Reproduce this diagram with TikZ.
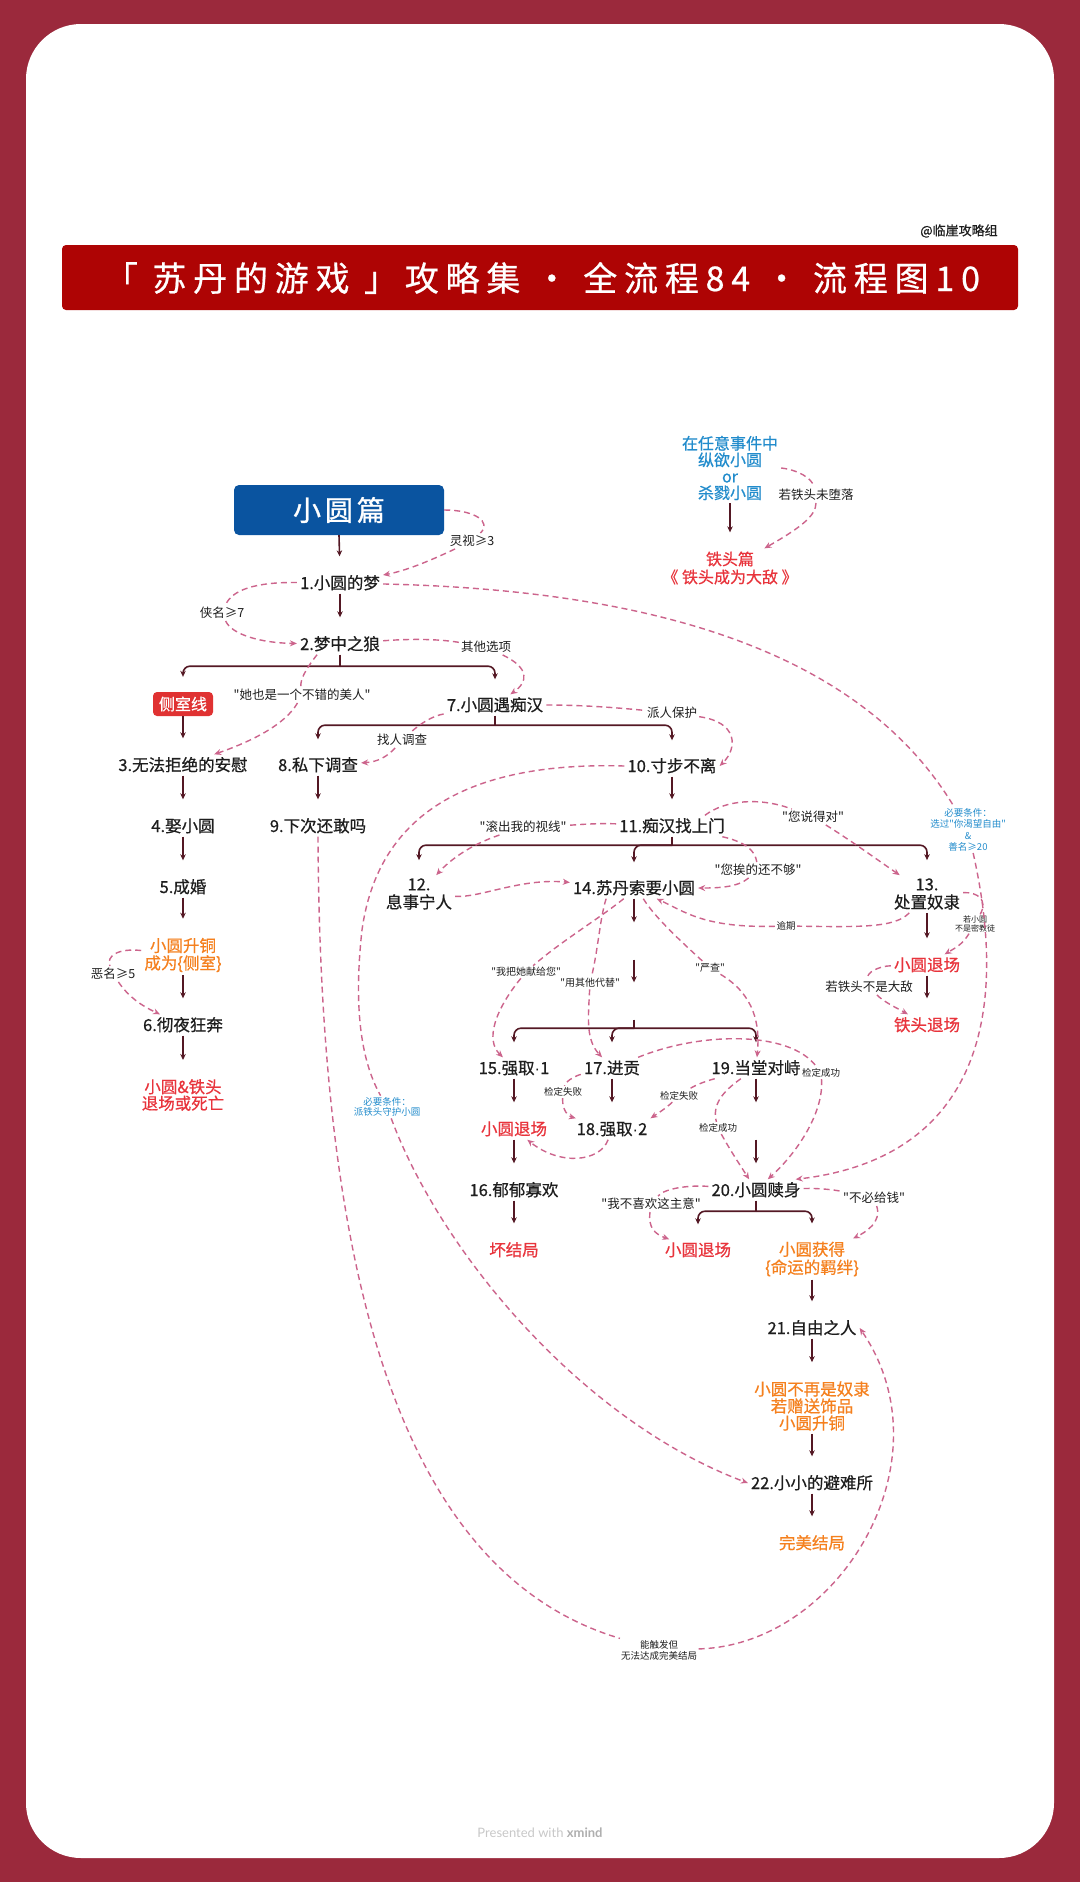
\documentclass[tikz,border=0pt]{standalone}
\usepackage{fontspec}
\setmainfont[Ligatures=TeXOff]{Noto Sans CJK SC}
\newfontfamily\nodefont[Ligatures=TeXOff, FakeBold=0.6]{Noto Sans CJK SC}
\newfontfamily\titlefont[LetterSpace=20, FakeBold=0.6]{Noto Sans CJK SC}
\newfontfamily\widecjk[LetterSpace=14, FakeBold=1]{Noto Sans CJK SC}
\newfontfamily\footfont{Lato}
\newfontfamily\latinf{Liberation Sans}
\newcommand\mdot{{\latinf ·}}
\usetikzlibrary{arrows.meta}
\definecolor{framec}{RGB}{155,41,60}
\definecolor{bannerc}{RGB}{174,4,4}
\definecolor{boxblue}{RGB}{10,84,160}
\definecolor{boxred}{RGB}{224,50,50}
\definecolor{lnc}{RGB}{84,24,36}
\definecolor{dsc}{RGB}{204,100,140}
\definecolor{txred}{RGB}{232,52,60}
\definecolor{txorange}{RGB}{245,128,30}
\definecolor{txblue}{RGB}{34,140,204}
\definecolor{txgray}{RGB}{200,200,200}
\definecolor{txdark}{RGB}{30,30,30}
\begin{document}
\begin{tikzpicture}[x=1pt,y=-1pt,
  nd/.style={inner sep=3pt, text=txdark, font=\nodefont\fontsize{16.5}{19}\selectfont, text height=13.5pt, text depth=1.5pt},
  nm/.style={inner sep=3pt, text=txdark, font=\nodefont\fontsize{16.5}{17.5}\selectfont, align=center},
  lbl/.style={inner sep=2pt, text=txdark, font=\fontsize{12.5}{14}\selectfont, align=center},
  lbs/.style={inner sep=1.5pt, text=txdark, font=\fontsize{9.5}{11}\selectfont, align=center},
  lbt/.style={inner sep=1pt, text=txdark, font=\fontsize{8}{9.5}\selectfont, align=center},
  arr/.style={draw=lnc, line width=1.6pt, -{Stealth[length=6pt,width=5.5pt]}, shorten >=16pt},
  tarr/.style={draw=lnc, line width=1.6pt, -{Stealth[length=6pt,width=5.5pt]}, rounded corners=7pt, shorten >=15pt},
  stemln/.style={draw=lnc, line width=1.6pt},
  dsh/.style={draw=dsc, line width=1.4pt, dash pattern=on 6pt off 4pt},
  dsa/.style={dsh, -{Stealth[length=7pt,width=6pt]}},
]
\useasboundingbox (0,0) rectangle (1080,1882);
\fill[framec] (0,0) rectangle (1080,1882);
\fill[white, rounded corners=55pt] (26,24) rectangle (1054,1858);

% header
\node[font=\nodefont\fontsize{13}{15}\selectfont, text=txdark] (wm) at (959,231) {@临崖攻略组};
\fill[bannerc, rounded corners=4pt] (62,245) rectangle (1018,310);
\node[text=white, font=\titlefont\fontsize{34}{40}\selectfont] (title) at (542,278) {「 苏丹的游戏 」攻略集 · 全流程84 · 流程图10};

% top right cluster
\node[nm, text=txblue, font=\nodefont\fontsize{16}{16.5}\selectfont] (topblue) at (730,468) {在任意事件中\\纵欲小圆\\or\\杀戮小圆};
\node[nm, text=txred, font=\nodefont\fontsize{16}{18}\selectfont] (tiepian) at (730,568) {铁头篇\\《 铁头成为大敌 》};

% main nodes
\node[fill=boxblue, rounded corners=5pt, minimum width=210pt, minimum height=50pt, text=white, font=\widecjk\fontsize{28}{32}\selectfont] (xyp) at (339,510) {小圆篇};
\node[nd] (n1) at (340,583) {1.小圆的梦};
\node[nd] (n2) at (340,644) {2.梦中之狼};
\node[fill=boxred, rounded corners=4pt, minimum width=60pt, minimum height=24pt, inner sep=2pt, text=white, font=\nodefont\fontsize{16}{18}\selectfont] (cs) at (183,704) {侧室线};
\node[nd] (n7) at (495,705) {7.小圆遇痴汉};
\node[nd] (n3) at (183,765) {3.无法拒绝的安慰};
\node[nd] (n8) at (318,765) {8.私下调查};
\node[nd] (n10) at (672,766) {10.寸步不离};
\node[nd] (n4) at (183,826) {4.娶小圆};
\node[nd] (n9) at (318,826) {9.下次还敢吗};
\node[nd] (n11) at (672,826) {11.痴汉找上门};
\node[nd] (n5) at (183,887) {5.成婚};
\node[nm, font=\nodefont\fontsize{16.5}{18}\selectfont] (n12) at (419,894) {12.\\息事宁人};
\node[nd] (n14) at (634,888) {14.苏丹索要小圆};
\node[nm, font=\nodefont\fontsize{16.5}{18}\selectfont] (n13) at (927,894) {13.\\处置奴隶};
\node[nd] (e1) at (634,949) {};
\node[nm, text=txorange] (o1) at (183,955) {小圆升铜\\成为\{侧室\}};
\node[nd, text=txred] (r13a) at (927,965) {小圆退场};
\node[nd] (e2) at (634,1009) {};
\node[nd, text=txred] (r13b) at (927,1025) {铁头退场};
\node[nd] (n6) at (183,1025) {6.彻夜狂奔};
\node[nd] (n15) at (514,1068) {15.强取\mdot 1};
\node[nd] (n17) at (612,1068) {17.进贡};
\node[nd] (n19) at (756,1068) {19.当堂对峙};
\node[nm, text=txred, font=\nodefont\fontsize{16.5}{16.5}\selectfont] (rr1) at (183,1095) {小圆\&铁头\\退场或死亡};
\node[nd, text=txred] (r15) at (514,1129) {小圆退场};
\node[nd] (n18) at (612,1129) {18.强取\mdot 2};
\node[nd] (e3) at (756,1129) {};
\node[nd] (n16) at (514,1190) {16.郁郁寡欢};
\node[nd] (n20) at (756,1190) {20.小圆赎身};
\node[nd, text=txred] (bad) at (514,1250) {坏结局};
\node[nd, text=txred] (r20) at (698,1250) {小圆退场};
\node[nm, text=txorange, font=\nodefont\fontsize{16.5}{18}\selectfont] (o20) at (812,1259) {小圆获得\\\{命运的羁绊\}};
\node[nd] (n21) at (812,1328) {21.自由之人};
\node[nm, text=txorange, font=\nodefont\fontsize{16.5}{17}\selectfont] (o21) at (812,1406) {小圆不再是奴隶\\若赠送饰品\\小圆升铜};
\node[nd] (n22) at (812,1483) {22.小小的避难所};
\node[nd, text=txorange] (perf) at (812,1543) {完美结局};

% labels
\node[lbl] (Lls) at (472,541) {灵视≥3};
\node[lbl] (Lxm) at (222,613) {侠名≥7};
\node[lbl] (Lqt) at (486,647) {其他选项};
\node[lbl] (Lmr) at (302,695) {"她也是一个不错的美人"};
\node[lbl] (Lzr) at (402,740) {找人调查};
\node[lbl] (Lpr) at (672,713) {派人保护};
\node[lbl] (Lgc) at (523,827) {"滚出我的视线"};
\node[lbl] (Lsd) at (813,817) {"您说得对"};
\node[lbl] (Lag) at (758,870) {"您挨的还不够"};
\node[lbs] (Lyq) at (786,926) {逾期};
\node[lbt] (Lmj) at (975,924) {若小圆\\不是密教徒};
\node[lbl] (Lbd) at (869,987) {若铁头不是大敌};
\node[lbs, font=\fontsize{10}{11}\selectfont] (Lxg) at (526,972) {"我把她献给您"};
\node[lbs, font=\fontsize{10}{11}\selectfont] (Lyt) at (590,983) {"用其他代替"};
\node[lbs, font=\fontsize{10}{11}\selectfont] (Lyc) at (710,968) {"严查"};
\node[lbs] (Lsb1) at (563,1092) {检定失败};
\node[lbs] (Lsb2) at (679,1096) {检定失败};
\node[lbs] (Lcg1) at (718,1128) {检定成功};
\node[lbs] (Lcg2) at (821,1073) {检定成功};
\node[lbl] (Lbx) at (651,1204) {"我不喜欢这主意"};
\node[lbl] (Lbb) at (874,1198) {"不必给钱"};
\node[lbl] (Lem) at (113,974) {恶名≥5};
\node[lbl] (Lwd) at (816,495) {若铁头未堕落};
\node[lbs, text=txblue, font=\fontsize{9.5}{10.5}\selectfont] (Lb) at (387,1107) {必要条件：\\派铁头守护小圆};
\node[lbs] (Lc) at (659,1650) {能触发但\\无法达成完美结局};
\node[lbs, text=txblue, font=\fontsize{9.5}{11.3}\selectfont] (Lc2) at (968,830) {必要条件：\\选过"你渴望自由"\\\&\\善名≥20};

% footer
\node[text=txgray, font=\footfont\fontsize{13}{15}\selectfont] (foot) at (540,1833) {Presented with \textbf{\textcolor[RGB]{175,175,175}{xmind}}};

% solid arrows
\draw[arr] (xyp.south) -- (n1.north);
\draw[arr] (n1.south) -- (n2.north);
\draw[arr] (cs.south) -- (n3.north);
\draw[arr] (n3.south) -- (n4.north);
\draw[arr] (n4.south) -- (n5.north);
\draw[arr] (n5.south) -- (o1.north);
\draw[arr] (o1.south) -- (n6.north);
\draw[arr] (n6.south) -- (rr1.north);
\draw[arr] (n8.south) -- (n9.north);
\draw[arr] (n10.south) -- (n11.north);
\draw[arr] (n13.south) -- (r13a.north);
\draw[arr] (r13a.south) -- (r13b.north);
\draw[arr] (n14.south) -- (e1.north);
\draw[arr] (e1.south) -- (e2.north);
\draw[arr] (n15.south) -- (r15.north);
\draw[arr] (n17.south) -- (n18.north);
\draw[arr] (n19.south) -- (e3.north);
\draw[arr] (e3.south) -- (n20.north);
\draw[arr] (r15.south) -- (n16.north);
\draw[arr] (n16.south) -- (bad.north);
\draw[arr] (o20.south) -- (n21.north);
\draw[arr] (n21.south) -- (o21.north);
\draw[arr] (o21.south) -- (n22.north);
\draw[arr] (n22.south) -- (perf.north);
\draw[arr] (topblue.south) -- (tiepian.north);

% trees
\draw[stemln] (n2.south) -- ++(0,11.5) coordinate (b2);
\draw[tarr] (b2) -| (cs.north);
\draw[tarr] (b2) -| (n7.north);
\draw[stemln] (n7.south) -- ++(0,9.5) coordinate (b7);
\draw[tarr] (b7) -| (n8.north);
\draw[tarr] (b7) -| (n10.north);
\draw[stemln] (n11.south) -- ++(0,8.5) coordinate (b11);
\draw[tarr] (b11) -| (n12.north);
\draw[tarr] (b11) -| (n14.north);
\draw[tarr] (b11) -| (n13.north);
\draw[stemln] (e2.south) -- ++(0,8.5) coordinate (be);
\draw[tarr] (be) -| (n15.north);
\draw[tarr] (be) -| (n17.north);
\draw[tarr] (be) -| (n19.north);
\draw[stemln] (n20.south) -- ++(0,10.5) coordinate (b20);
\draw[tarr] (b20) -| (r20.north);
\draw[tarr] (b20) -| (o20.north);

% dashed connectors
\draw[dsh] (xyp) .. controls (475,510) and (492,522) .. (Lls);
\draw[dsa] (Lls) .. controls (440,556) and (410,570) .. (n1);
\draw[dsh] (n1) .. controls (255,582) and (232,590) .. (Lxm);
\draw[dsa] (Lxm) .. controls (232,635) and (262,643) .. (n2);
\draw[dsh] (n2) .. controls (420,638) and (445,640) .. (Lqt);
\draw[dsa] (Lqt) .. controls (530,668) and (528,682) .. (n7);
\draw[dsh] (n2.205) .. controls (305,670) and (300,680) .. (Lmr);
\draw[dsa] (Lmr) .. controls (285,725) and (250,742) .. (n3);
\draw[dsh] (n7) .. controls (432,716) and (420,724) .. (Lzr);
\draw[dsa] (Lzr) .. controls (388,756) and (378,762) .. (n8);
\draw[dsh] (n7) .. controls (585,705) and (620,708) .. (Lpr);
\draw[dsa] (Lpr) .. controls (738,722) and (738,748) .. (n10.east);
\draw[dsh] (n10.west) .. controls (490,762) and (380,800) .. (362,930) .. controls (352,1020) and (365,1068) .. (Lb);
\draw[dsa] (Lb) .. controls (440,1250) and (580,1420) .. (n22.west);
\draw[dsh] (n9.south) .. controls (320,1250) and (390,1570) .. (Lc);
\draw[dsa] (Lc) .. controls (840,1645) and (950,1460) .. (n21.east);
\draw[dsh] (n1) .. controls (650,590) and (860,650) .. (Lc2);
\draw[dsa] (Lc2) .. controls (1015,1040) and (960,1160) .. ([xshift=-8pt]n20.north east);
\draw[dsh] (n11) .. controls (595,823) and (575,825) .. (Lgc);
\draw[dsa] (Lgc) .. controls (470,845) and (450,860) .. (n12);
\draw[dsh] (n11.18) .. controls (725,800) and (760,797) .. (Lsd);
\draw[dsa] (Lsd) .. controls (850,840) and (872,856) .. (n13);
\draw[dsh] (n11.-12) .. controls (745,842) and (755,850) .. (Lag);
\draw[dsa] (Lag) .. controls (738,887) and (720,888) .. (n14);
\draw[dsa] (n12) .. controls (480,898) and (520,878) .. (n14);
\draw[dsh] (n13) .. controls (895,928) and (860,927) .. (Lyq);
\draw[dsa] (Lyq) .. controls (705,928) and (685,912) .. (n14);
\draw[dsh] (n13) .. controls (978,892) and (988,900) .. (Lmj);
\draw[dsa] (Lmj) .. controls (962,945) and (955,948) .. (r13a);
\draw[dsh] (r13a) .. controls (880,966) and (866,972) .. (Lbd);
\draw[dsa] (Lbd) .. controls (884,1002) and (895,1007) .. (r13b);
\draw[dsh] (n14.226) .. controls (600,918) and (560,942) .. (Lxg);
\draw[dsa] (Lxg) .. controls (495,1010) and (485,1040) .. (n15);
\draw[dsh] (n14.201) .. controls (600,918) and (598,950) .. (Lyt);
\draw[dsa] (Lyt) .. controls (588,1020) and (586,1040) .. (n17);
\draw[dsh] (n14.311) .. controls (655,918) and (685,945) .. (Lyc);
\draw[dsa] (Lyc) .. controls (755,995) and (760,1025) .. (n19);
\draw[dsh] (n17) .. controls (578,1075) and (566,1080) .. (Lsb1);
\draw[dsa] (Lsb1) .. controls (562,1110) and (568,1116) .. (n18);
\draw[dsh] (n19) .. controls (702,1082) and (692,1087) .. (Lsb2);
\draw[dsa] (Lsb2) .. controls (666,1108) and (660,1112) .. (n18.north east);
\draw[dsa] (n18) .. controls (600,1162) and (560,1166) .. (r15);
\draw[dsh] (n19) .. controls (722,1092) and (712,1105) .. (Lcg1);
\draw[dsa] (Lcg1) .. controls (730,1150) and (740,1165) .. (n20);
\draw[dsh] (n17) .. controls (700,1032) and (790,1030) .. (Lcg2);
\draw[dsa] (Lcg2) .. controls (824,1110) and (800,1150) .. (n20);
\draw[dsh] (n20) .. controls (690,1185) and (665,1188) .. (Lbx);
\draw[dsa] (Lbx) .. controls (648,1228) and (655,1234) .. (r20);
\draw[dsh] (n20) .. controls (820,1188) and (835,1190) .. (Lbb);
\draw[dsa] (Lbb) .. controls (882,1222) and (866,1232) .. (o20);
\draw[dsh] (o1) .. controls (118,948) and (106,956) .. (Lem);
\draw[dsa] (Lem) .. controls (128,996) and (140,1005) .. (n6);
\draw[dsh] (topblue.east) .. controls (798,470) and (812,478) .. (Lwd);
\draw[dsa] (Lwd) .. controls (816,516) and (800,528) .. (tiepian);
\end{tikzpicture}
\end{document}
